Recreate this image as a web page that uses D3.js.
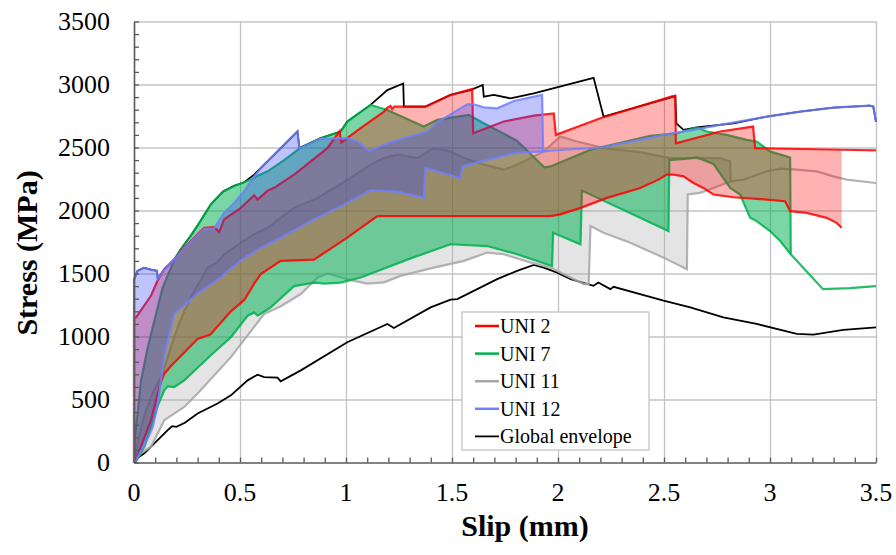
<!DOCTYPE html>
<html>
<head>
<meta charset="UTF-8">
<script src="https://d3js.org/d3.v7.min.js"></script>
</head>
<body style="margin:0">
<svg id="chart" width="896" height="555"></svg>
<script>
// [slip (mm), stress (MPa)]
var envUpper = [[0,0],[0,1450],[0.016,1520],[0.047,1545],[0.08,1530],[0.108,1521],[0.112,1460],[0.143,1534],
  [0.19,1610],[0.22,1690],[0.268,1800],[0.3,1880],[0.363,2050],[0.42,2150],[0.472,2195],[0.52,2224],[0.567,2285],
  [0.771,2627],[0.78,2495],[0.881,2574],[0.975,2627],[1.006,2706],[1.116,2838],[1.195,2956],[1.27,3008],
  [1.273,2824],[1.375,2824],[1.493,2917],[1.587,2956],[1.645,2996],[1.65,2903],[1.697,2917],[1.776,2890],
  [1.886,2929],[2.168,3053],[2.215,2745],[2.545,2903],[2.553,2909],[2.558,2692],[2.592,2640],[2.655,2659],
  [2.828,2692],[2.985,2745],[3.142,2785],[3.299,2816],[3.47,2832],[3.487,2826],[3.5,2706]];

var envLower = [[0,0],[0.025,46],[0.049,73],[0.096,152],[0.159,257],[0.18,288],[0.2,283],[0.24,315],[0.3,389],
  [0.394,468],[0.457,533],[0.536,652],[0.583,697],[0.614,678],[0.677,673],[0.692,644],[0.787,731],[1.006,954],
  [1.195,1100],[1.226,1068],[1.399,1231],[1.493,1292],[1.525,1297],[1.713,1455],[1.807,1521],[1.886,1568],
  [1.933,1547],[1.996,1507],[2.06,1455],[2.168,1402],[2.19,1428],[2.247,1376],[2.262,1394],[2.498,1284],
  [2.624,1231],[2.78,1152],[2.937,1100],[3.126,1021],[3.205,1015],[3.346,1052],[3.5,1073]];

var uni2Upper = [[0,0],[0,1150],[0.009,1152],[0.08,1323],[0.11,1440],[0.143,1534],[0.19,1613],[0.237,1705],
  [0.3,1811],[0.331,1863],[0.378,1868],[0.402,1831],[0.425,1929],[0.504,2021],[0.567,2121],[0.583,2087],
  [0.63,2158],[0.661,2180],[0.755,2285],[0.834,2390],[0.912,2495],[0.97,2630],[0.978,2540],[1.069,2653],
  [1.179,2785],[1.195,2816],[1.21,2830],[1.218,2805],[1.227,2824],[1.375,2824],[1.493,2917],[1.595,2964],
  [1.6,2613],[1.744,2706],[1.886,2753],[1.98,2771],[1.99,2600],[2.2,2732],[2.545,2909],[2.553,2909],
  [2.556,2534],[2.765,2627],[2.92,2666],[2.93,2495],[3.338,2482],[3.5,2477]];
var uni2Lower = [[0,0],[0.009,20],[0.08,336],[0.127,640],[0.143,705],[0.18,775],[0.3,980],[0.36,1015],
  [0.457,1200],[0.52,1290],[0.567,1420],[0.598,1495],[0.692,1600],[0.849,1610],[1.006,1784],[1.148,1955],
  [1.964,1955],[2.011,1969],[2.106,2021],[2.231,2100],[2.388,2179],[2.474,2245],[2.513,2285],[2.545,2285],
  [2.592,2271],[2.639,2218],[2.686,2179],[2.733,2127],[2.828,2105],[2.985,2087],[3.071,2074],[3.095,1995],
  [3.173,1981],[3.267,1942],[3.314,1902],[3.338,1863]];

var uni7Upper = [[0,0],[0.004,200],[0.017,389],[0.033,652],[0.065,915],[0.104,1179],[0.135,1389],[0.19,1610],
  [0.22,1690],[0.268,1800],[0.3,1880],[0.363,2050],[0.42,2150],[0.472,2195],[0.52,2224],[0.551,2245],
  [0.583,2275],[0.63,2311],[0.708,2400],[0.787,2500],[0.881,2574],[0.975,2627],[1.006,2706],[1.116,2838],
  [1.195,2798],[1.367,2666],[1.43,2719],[1.579,2759],[1.65,2692],[1.807,2553],[1.935,2342],[1.964,2350],
  [2.153,2482],[2.435,2593],[2.561,2613],[2.655,2659],[2.702,2627],[2.796,2600],[2.89,2561],[2.937,2548],
  [2.969,2508],[3.0,2469],[3.095,2421],[3.098,1653],[3.25,1376],[3.377,1384],[3.5,1400]];
var uni7Lower = [[0,0],[0.009,6],[0.049,125],[0.08,283],[0.11,441],[0.143,573],[0.159,604],[0.19,599],
  [0.237,652],[0.3,752],[0.378,875],[0.457,994],[0.536,1165],[0.567,1191],[0.583,1165],[0.645,1231],
  [0.755,1400],[0.849,1428],[0.9,1420],[0.975,1428],[1.069,1468],[1.305,1620],[1.493,1732],[1.666,1718],
  [1.807,1653],[1.972,1560],[1.977,1823],[2.106,1732],[2.113,2158],[2.521,1837],[2.525,2400],[2.6,2410],
  [2.655,2421],[2.733,2370],[2.812,2179],[2.859,2127],[2.906,1942],[2.937,1916],[3.0,1837],[3.048,1758],
  [3.098,1653]];

var uni11Upper = [[0,0],[0.02,180],[0.05,380],[0.09,560],[0.135,705],[0.174,915],[0.206,1073],[0.237,1200],
  [0.284,1363],[0.316,1450],[0.347,1547],[0.394,1590],[0.425,1653],[0.472,1705],[0.504,1745],[0.567,1811],
  [0.63,1863],[0.692,1942],[0.755,2021],[0.866,2100],[1.022,2258],[1.116,2364],[1.179,2416],[1.242,2443],
  [1.336,2416],[1.414,2495],[1.493,2469],[1.556,2416],[1.65,2364],[1.744,2324],[1.807,2364],[1.933,2469],
  [2.011,2587],[2.09,2548],[2.231,2490],[2.388,2463],[2.529,2416],[2.67,2416],[2.765,2416],[2.812,2390],
  [2.815,2232],[2.875,2245],[2.985,2311],[3.048,2332],[3.126,2324],[3.22,2311],[3.299,2271],[3.362,2245],
  [3.5,2218]];
var uni11Lower = [[0,0],[0.033,73],[0.08,125],[0.143,336],[0.237,441],[0.3,547],[0.457,836],[0.614,1179],
  [0.692,1240],[0.787,1337],[0.866,1468],[0.912,1500],[0.975,1470],[1.038,1442],[1.1,1420],[1.179,1430],
  [1.257,1481],[1.414,1547],[1.556,1600],[1.666,1666],[1.744,1653],[1.87,1587],[1.964,1547],[2.121,1416],
  [2.145,1416],[2.153,1876],[2.215,1824],[2.341,1744],[2.498,1626],[2.608,1534],[2.612,2127],[2.67,2140],
  [2.733,2179],[2.815,2232]];

var uni12Upper = [[0,0],[0,1450],[0.016,1520],[0.047,1545],[0.08,1530],[0.108,1521],[0.112,1460],[0.143,1530],
  [0.19,1610],[0.237,1700],[0.3,1805],[0.331,1855],[0.378,1858],[0.425,1981],[0.472,2060],[0.52,2153],
  [0.567,2270],[0.6,2340],[0.771,2627],[0.78,2495],[0.787,2495],[0.881,2569],[1.006,2574],[1.053,2548],
  [1.108,2474],[1.21,2542],[1.383,2627],[1.43,2700],[1.572,2843],[1.603,2843],[1.65,2819],[1.713,2811],
  [1.792,2869],[1.925,2917],[1.93,2469],[2.027,2482],[2.2,2500],[2.388,2561],[2.513,2605],[2.639,2640],
  [2.765,2680],[2.985,2745],[3.142,2785],[3.299,2816],[3.47,2832],[3.487,2826],[3.5,2706]];
var uni12Lower = [[0,0],[0.01,20],[0.065,190],[0.088,280],[0.11,440],[0.127,650],[0.143,850],[0.19,1180],
  [0.3,1340],[0.4,1460],[0.5,1600],[0.598,1705],[0.692,1784],[0.834,1916],[0.99,2048],[1.116,2160],
  [1.242,2150],[1.367,2100],[1.375,2337],[1.54,2258],[1.548,2350],[1.792,2455],[1.93,2469]];

var yTicks = [0, 500, 1000, 1500, 2000, 2500, 3000, 3500];
var xTicks = [0, 0.5, 1, 1.5, 2, 2.5, 3, 3.5];
var seriesNames = ["UNI 2", "UNI 7", "UNI 11", "UNI 12", "Global envelope"];

var FONT = "'Liberation Serif'";

var svg = d3.select("#chart");
var x = d3.scaleLinear().domain([0, 3.5]).range([134, 876]);
var y = d3.scaleLinear().domain([0, 3500]).range([462.5, 21.5]);

// grid
var gy = svg.append("g").attr("transform", "translate(134,0)")
  .call(d3.axisLeft(y).tickValues(yTicks.slice(1)).tickSize(-(876 - 134)).tickFormat(""));
var gx = svg.append("g").attr("transform", "translate(0,462.5)")
  .call(d3.axisBottom(x).tickValues(xTicks.slice(1)).tickSize(-(462.5 - 21.5)).tickFormat(""));
[gy, gx].forEach(function(g) {
  g.select(".domain").remove();
  g.selectAll("line").attr("stroke", "#c4c4c4").attr("stroke-width", 1.3);
});

var line = d3.line().x(function(d) { return x(d[0]); }).y(function(d) { return y(d[1]); });

// global envelope first (under the bands)
svg.append("path").attr("d", line(envUpper)).attr("fill", "none").attr("stroke", "#000").attr("stroke-width", 1.8);
svg.append("path").attr("d", line(envLower)).attr("fill", "none").attr("stroke", "#000").attr("stroke-width", 1.8);

function band(upper, lower) {
  var end = lower[lower.length - 1][0];
  var top = upper.filter(function(p) { return p[0] <= end; });
  return top.concat(lower.slice().reverse());
}

var specs = [
  { up: uni11Upper, lo: uni11Lower, stroke: "#a6a6a6", fill: "#a6a6a6", op: 0.3 },
  { up: uni7Upper, lo: uni7Lower, stroke: "#00b050", fill: "#00b050", op: 0.52 },
  { up: uni2Upper, lo: uni2Lower, stroke: "#ff0000", fill: "#ff0000", op: 0.3 },
  { up: uni12Upper, lo: uni12Lower, stroke: "#6f80ff", fill: "#2a3cff", op: 0.3 }
];

specs.forEach(function(s) {
  var g = svg.append("g");
  g.append("path").attr("d", line(band(s.up, s.lo)) + "Z")
    .attr("fill", s.fill).attr("fill-opacity", s.op).attr("stroke", "none");
  g.append("path").attr("d", line(s.up)).attr("fill", "none")
    .attr("stroke", s.stroke).attr("stroke-width", 2.2).attr("stroke-opacity", 0.85);
  g.append("path").attr("d", line(s.lo)).attr("fill", "none")
    .attr("stroke", s.stroke).attr("stroke-width", 2.2).attr("stroke-opacity", 0.85);
});

// minor ticks and axis lines
var my = svg.append("g").attr("transform", "translate(134,0)")
  .call(d3.axisLeft(y).tickValues(d3.range(0, 3501, 100)).tickSize(-5).tickSizeOuter(0).tickFormat(""));
var mx = svg.append("g").attr("transform", "translate(0,462.5)")
  .call(d3.axisBottom(x).tickValues(d3.range(0, 36).map(function(i) { return i / 10; }))
    .tickSize(-5).tickSizeOuter(0).tickFormat(""));
[my, mx].forEach(function(g) {
  g.selectAll("line").attr("stroke", "#595959").attr("stroke-width", 1.3);
  g.select(".domain").attr("stroke", "#595959").attr("stroke-width", 1.6);
});

// tick labels, written as plain text elements
yTicks.forEach(function(v) {
  svg.append("text").attr("x", 110).attr("y", y(v)).attr("dy", "0.34em")
    .attr("text-anchor", "end").style("font-family", FONT).style("font-size", "26px")
    .text(d3.format("d")(v));
});
xTicks.forEach(function(v) {
  svg.append("text").attr("x", x(v)).attr("y", 500.5)
    .attr("text-anchor", "middle").style("font-family", FONT).style("font-size", "26px")
    .text(d3.format("~g")(v));
});

// axis titles
svg.append("text").attr("x", 525).attr("y", 536)
  .style("font-family", FONT).style("font-size", "30px").style("font-weight", "bold")
  .attr("text-anchor", "middle").text("Slip (mm)");
svg.append("text").attr("transform", "translate(37,253) rotate(-90)")
  .style("font-family", FONT).style("font-size", "30px").style("font-weight", "bold")
  .attr("text-anchor", "middle").text("Stress (MPa)");

// legend
var legColors = ["#ff0000", "#00b050", "#a6a6a6", "#6f80ff", "#000"];
var leg = svg.append("g");
leg.append("rect").attr("x", 462).attr("y", 312).attr("width", 187).attr("height", 138)
  .attr("fill", "#fff").attr("stroke", "#bfbfbf").attr("stroke-width", 1.2);
seriesNames.forEach(function(n, i) {
  var yy = 326 + i * 27.6;
  leg.append("line").attr("x1", 475).attr("x2", 499).attr("y1", yy).attr("y2", yy)
    .attr("stroke", legColors[i]).attr("stroke-width", i == 4 ? 1.8 : 2.5);
  leg.append("text").attr("x", 500).attr("y", yy).attr("dy", "0.35em")
    .style("font-family", FONT).style("font-size", "20px").text(n);
});
</script>
</body>
</html>
